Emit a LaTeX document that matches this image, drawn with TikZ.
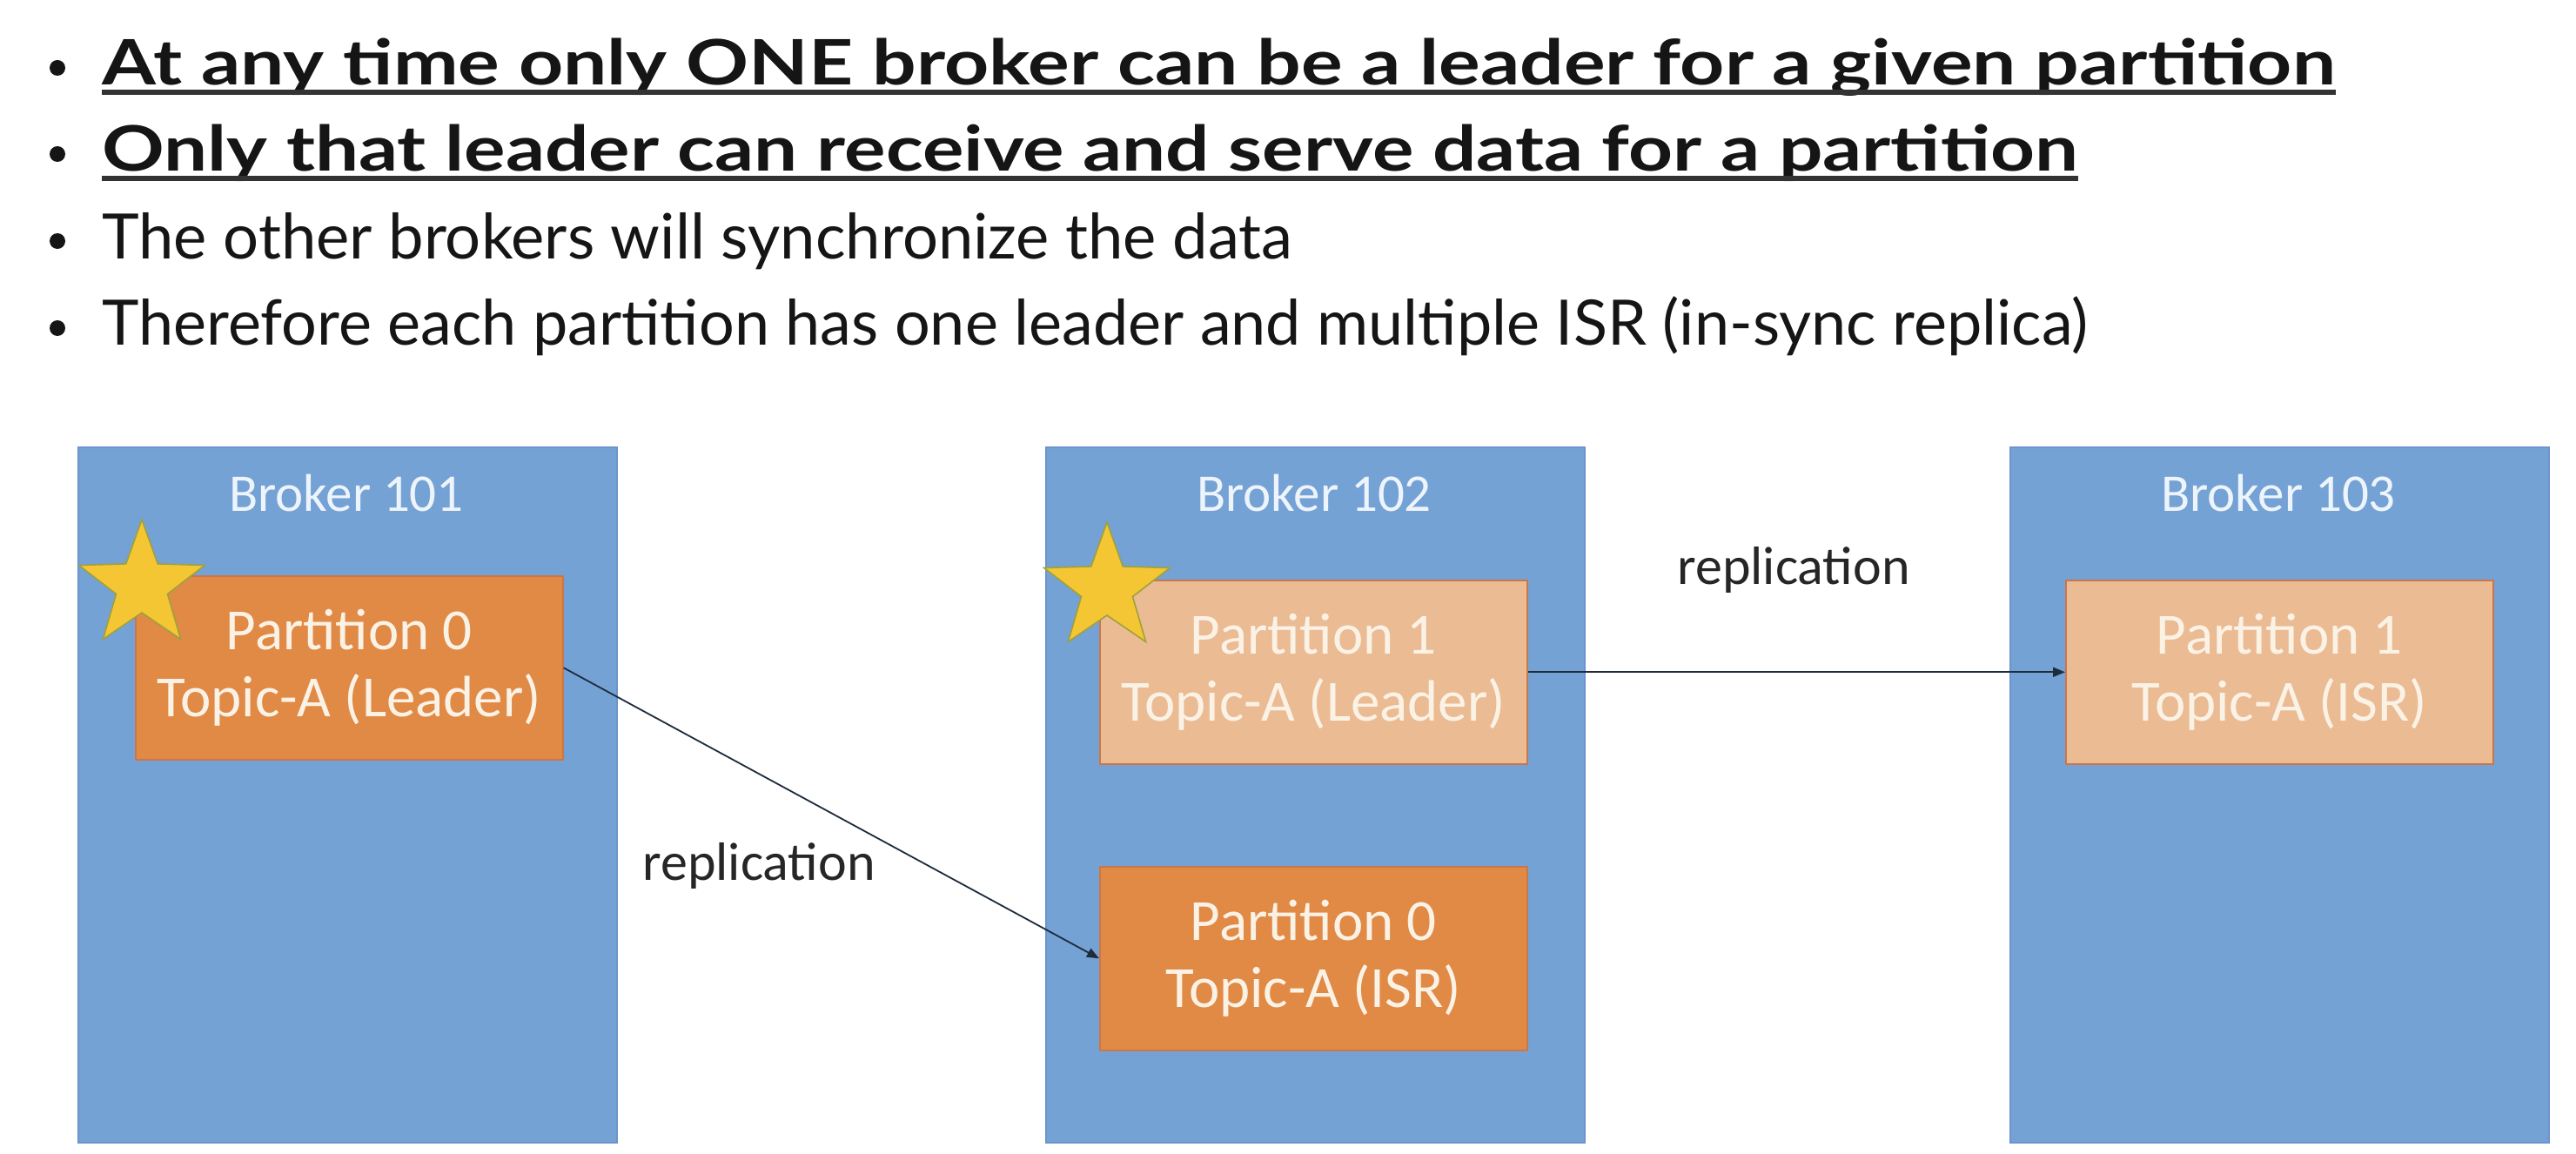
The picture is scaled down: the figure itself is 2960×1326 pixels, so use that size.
\documentclass[tikz,border=0pt]{standalone}
\usepackage{fontspec}
\usepackage{graphicx}
\setmainfont{Carlito}
\newfontfamily\gill{Lato}
\usetikzlibrary{shapes.geometric,arrows.meta,calc}
\definecolor{brokerblue}{HTML}{75A2D5}
\definecolor{brokeredge}{HTML}{6B93CC}
\definecolor{darkorange}{HTML}{E08A46}
\definecolor{lightorange}{HTML}{EBBB93}
\definecolor{orangeedge}{HTML}{C9774A}
\definecolor{staryellow}{HTML}{F4C633}
\definecolor{staredge}{HTML}{9FA13C}
\definecolor{boxtext}{HTML}{FBF2E6}
\definecolor{titletext}{HTML}{EEF4FB}
\definecolor{arrowcol}{HTML}{1E2C3C}
\definecolor{bullettext}{HTML}{151515}
\begin{document}
\begin{tikzpicture}[x=0.5pt,y=-0.5pt,
  broker/.style={draw=brokeredge, line width=0.8pt, fill=brokerblue, anchor=north west,
    minimum width=309.5pt, minimum height=399.5pt, inner sep=0pt},
  btitle/.style={anchor=base, text=titletext, font=\fontsize{30.5}{36}\selectfont, inner sep=0pt},
  part/.style={draw=orangeedge, line width=0.8pt, anchor=north west, minimum width=245.5pt,
    minimum height=105.5pt, inner sep=0pt, align=center, text=boxtext,
    font=\fontsize{33.5}{38.5}\selectfont},
  leaderpart/.style={part, fill=darkorange},
  isrpart/.style={part, fill=darkorange},
  lightpart/.style={part, fill=lightorange},
  leaderstar/.style={star, star points=5, star point ratio=2.45, minimum size=76pt,
    inner sep=0pt, fill=staryellow, draw=staredge, line width=0.8pt},
  conn/.style={-{Triangle[length=7pt,width=5.5pt]}, line width=0.9pt, draw=arrowcol},
  replabel/.style={text=black!85, font=\fontsize{31}{36}\selectfont, inner sep=0pt},
  bline/.style={anchor=base west, inner sep=0pt, text=bullettext},
  bdot/.style={circle, fill=bullettext, inner sep=0pt, minimum size=9pt},
  uline/.style={line width=2.6pt, draw=black!80}
]
\useasboundingbox[fill=white] (0,0) rectangle (2960,1326);

% bullets
\node[bdot] (d1) at (66,78) {};
\node[bdot] (d2) at (66,177) {};
\node[bdot] (d3) at (66,277) {};
\node[bdot] (d4) at (66,377) {};
\node[bline] (l1) at (117,98) {\resizebox{1283pt}{\height}{\fontsize{36}{40}\gill\bfseries\selectfont At any time only ONE broker can be a leader for a given partition}};
\node[bline] (l2) at (117,197) {\resizebox{1135pt}{\height}{\fontsize{36}{40}\gill\bfseries\selectfont Only that leader can receive and serve data for a partition}};
\node[bline] (l3) at (117,298) {\resizebox{684pt}{\height}{\fontsize{36}{40}\gill\selectfont The other brokers will synchronize the data}};
\node[bline] (l4) at (117,397) {\resizebox{1141pt}{\height}{\fontsize{36}{40}\gill\selectfont Therefore each partition has one leader and multiple ISR (in-sync replica)}};
\draw[uline] ($(l1.base west)+(0,8)$) -- ($(l1.base east)+(0,8)$);
\draw[uline] ($(l2.base west)+(0,8)$) -- ($(l2.base east)+(0,8)$);

% brokers
\node[broker] (b1) at (89,513) {};
\node[broker] (b2) at (1201,513) {};
\node[broker] (b3) at (2309,513) {};
\node[btitle] (t1) at (398,587) {Broker 101};
\node[btitle] (t2) at (1510,587) {Broker 102};
\node[btitle] (t3) at (2618,587) {Broker 103};

% partitions
\node[leaderpart] (p0l) at (155,661) {Partition 0\\Topic-A (Leader)};
\node[lightpart] (p1l) at (1263,666) {Partition 1\\Topic-A (Leader)};
\node[isrpart] (p0i) at (1263,995) {Partition 0\\Topic-A (ISR)};
\node[lightpart] (p1i) at (2373,666) {Partition 1\\Topic-A (ISR)};

% stars
\node[leaderstar] (s1) at ($(p0l.north west)+(8,12)$) {};
\node[leaderstar] (s2) at ($(p1l.north west)+(9,10)$) {};

% replication arrows
\draw[conn] (p0l.east) -- (p0i.west);
\draw[conn] (p1l.east) -- (p1i.west);
\node[replabel] (r1) at (872,995) {replication};
\node[replabel] (r2) at (2061,655) {replication};
\end{tikzpicture}
\end{document}
